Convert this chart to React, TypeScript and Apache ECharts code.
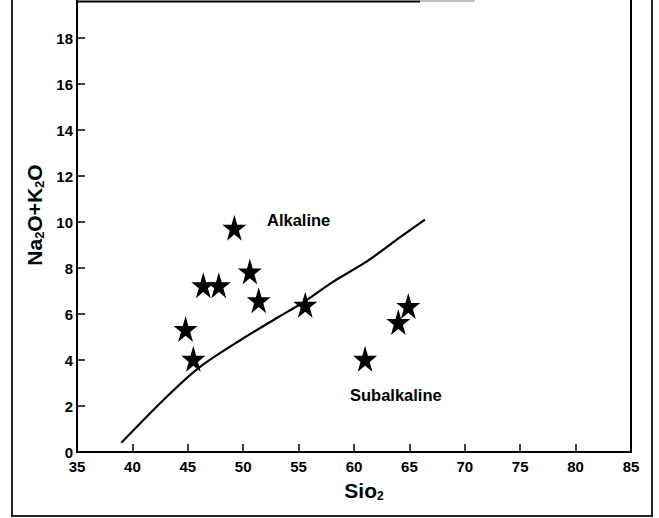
import React, { useEffect, useRef } from "react";
import * as echarts from "echarts";

// SiO2 (wt%) of the plotted samples
const sampleSiO2 = [44.8, 45.5, 46.4, 47.8, 49.2, 50.6, 51.4, 55.6, 61.0, 64.0, 64.9];
// Na2O + K2O (wt%) of the plotted samples
const sampleAlkali = [5.35, 4.05, 7.25, 7.25, 9.75, 7.85, 6.6, 6.4, 4.05, 5.65, 6.35];
// Alkaline / subalkaline dividing curve
const divideSiO2 = [39.0, 43.1, 46.1, 49.7, 53.3, 55.4, 58.1, 61.2, 64.2, 66.4];
const divideAlkali = [0.4, 2.4, 3.7, 4.85, 5.9, 6.5, 7.4, 8.3, 9.35, 10.1];
// Field names
const fieldLabels = ["Alkaline", "Subalkaline"];

const FONT = "'Liberation Sans', Arial, sans-serif";
const STAR =
  "path://M50 0L61.23 34.55L97.55 34.55L68.17 55.9L79.39 90.45L50 69.1L20.61 90.45L31.83 55.9L2.45 34.55L38.77 34.55Z";

// the chart div is shifted up by this many pixels so the top of the plot is cropped like the scan
const SHIFT = 20;

export default function App() {
  const ref = useRef<HTMLDivElement>(null);

  useEffect(() => {
    if (!ref.current) return;
    const chart = echarts.init(ref.current, null, { renderer: "svg" });
    const points = sampleSiO2.map((x, i) => [x, sampleAlkali[i]]);
    const curve = divideSiO2.map((x, i) => [x, divideAlkali[i]]);

    chart.setOption({
      animation: false,
      backgroundColor: "#ffffff",
      grid: {
        left: 77,
        right: 28,
        top: 12,
        bottom: 66,
        show: true,
        borderColor: "#000",
        borderWidth: 2,
        backgroundColor: "transparent",
      },
      xAxis: {
        type: "value",
        min: 35,
        max: 85,
        interval: 5,
        axisLine: { show: true, lineStyle: { color: "#000", width: 2 } },
        axisTick: { show: true, inside: true, length: 8, lineStyle: { color: "#000", width: 1.5 } },
        axisLabel: {
          color: "#000",
          fontSize: 15,
          fontWeight: "bold",
          fontFamily: FONT,
          lineHeight: 14,
          margin: 7,
        },
        splitLine: { show: false },
      },
      yAxis: {
        type: "value",
        min: 0,
        max: 20,
        interval: 2,
        axisLine: { show: true, lineStyle: { color: "#000", width: 2 } },
        axisTick: { show: true, inside: true, length: 8, lineStyle: { color: "#000", width: 1.5 } },
        axisLabel: {
          color: "#000",
          fontSize: 15,
          fontWeight: "bold",
          fontFamily: FONT,
          lineHeight: 11,
          padding: [0, 0, 4, 0],
          margin: 4,
        },
        splitLine: { show: false },
      },
      series: [
        {
          type: "line",
          data: curve,
          smooth: 0.3,
          showSymbol: false,
          lineStyle: { color: "#000", width: 2.2 },
          z: 2,
        },
        {
          type: "scatter",
          data: points,
          symbol: STAR,
          symbolSize: [24, 26],
          itemStyle: { color: "#000", opacity: 1 },
          z: 3,
        },
      ],
      graphic: [
        {
          type: "rect",
          shape: { x: 12, y: 5, width: 640, height: 531 },
          style: { fill: "none", stroke: "#222", lineWidth: 2 },
          silent: true,
        },
        {
          type: "line",
          shape: { x1: 77, y1: 1.5 + SHIFT, x2: 420, y2: 1.5 + SHIFT },
          style: { stroke: "#000", lineWidth: 2 },
          silent: true,
        },
        {
          type: "line",
          shape: { x1: 420, y1: 1 + SHIFT, x2: 475, y2: 1 + SHIFT },
          style: { stroke: "#aaa", lineWidth: 1.5 },
          silent: true,
        },
        {
          type: "text",
          x: 267,
          y: 220 + SHIFT,
          style: {
            text: fieldLabels[0],
            fill: "#000",
            font: `bold 16.5px ${FONT}`,
            align: "left",
            verticalAlign: "middle",
          },
        },
        {
          type: "text",
          x: 350,
          y: 395 + SHIFT,
          style: {
            text: fieldLabels[1],
            fill: "#000",
            font: `bold 16.5px ${FONT}`,
            align: "left",
            verticalAlign: "middle",
          },
        },
        {
          type: "text",
          x: 364,
          y: 490 + SHIFT,
          style: {
            text: "{a|Sio}{b|2}",
            align: "center",
            verticalAlign: "middle",
            rich: {
              a: { fontSize: 21, fontWeight: "bold", fontFamily: FONT, fill: "#000", lineHeight: 24, verticalAlign: "middle" },
              b: { fontSize: 12, fontWeight: "bold", fontFamily: FONT, fill: "#000", lineHeight: 14, verticalAlign: "bottom" },
            },
          },
        },
        {
          type: "text",
          x: 34,
          y: 215 + SHIFT,
          rotation: Math.PI / 2,
          style: {
            text: "{a|Na}{b|2}{a|O+K}{b|2}{a|O}",
            align: "center",
            verticalAlign: "middle",
            rich: {
              a: { fontSize: 21, fontWeight: "bold", fontFamily: FONT, fill: "#000", lineHeight: 24, verticalAlign: "middle" },
              b: { fontSize: 13, fontWeight: "bold", fontFamily: FONT, fill: "#000", lineHeight: 14, verticalAlign: "bottom" },
            },
          },
        },
      ],
    });

    return () => chart.dispose();
  }, []);

  return (
    <div
      ref={ref}
      style={{ position: "fixed", left: 0, top: -SHIFT, width: 659, height: 518 + SHIFT, background: "#fff" }}
    />
  );
}
